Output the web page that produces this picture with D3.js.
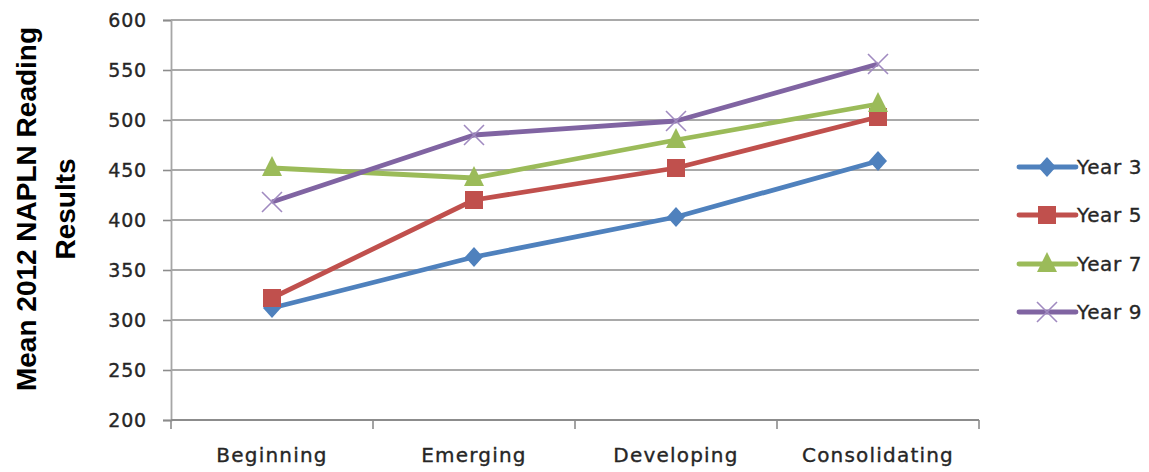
<!DOCTYPE html>
<html>
<head>
<meta charset="utf-8">
<script src="https://cdn.jsdelivr.net/npm/d3@7"></script>
<style>
  html, body { margin: 0; padding: 0; background: #ffffff; }
  svg { display: block; }
</style>
</head>
<body>
<svg id="chart" width="1149" height="472"></svg>
<script>
const categories = ["Beginning", "Emerging", "Developing", "Consolidating"];
const seriesNames = ["Year 3", "Year 5", "Year 7", "Year 9"];
const year3 = [312, 363, 403, 459];
const year5 = [322, 420, 452, 503];
const year7 = [452, 442, 480, 516];
const year9 = [418, 485, 499, 556];
const yTicks = [200, 250, 300, 350, 400, 450, 500, 550, 600];
const yTitleLines = ["Mean 2012 NAPLN Reading", "Results"];

const seriesValues = [year3, year5, year7, year9];
const colors = ["#4F81BD", "#C0504D", "#9BBB59", "#8064A2"];
const markers = ["diamond", "square", "triangle", "x"];

const svg = d3.select("#chart");
const plotLeft = 171, plotRight = 979, plotTop = 20, plotBottom = 420;

const x = d3.scaleBand().domain(categories).range([plotLeft, plotRight]).padding(0);
const y = d3.scaleLinear().domain([200, 600]).range([plotBottom, plotTop]);
const cx = c => x(c) + x.bandwidth() / 2;

const gridColor = "#8c8c8c";
const textColor = "#262626";

// gridlines
svg.append("g").selectAll("line").data(yTicks.filter(t => t > 200)).enter()
  .append("line")
  .attr("x1", plotLeft).attr("x2", plotRight)
  .attr("y1", d => y(d)).attr("y2", d => y(d))
  .attr("stroke", gridColor).attr("stroke-width", 1.6);

// y axis
const yAxis = d3.axisLeft(y).tickValues(yTicks).tickSize(8).tickPadding(16);
const gy = svg.append("g").attr("transform", `translate(${plotLeft},0)`).call(yAxis);
gy.select(".domain").attr("stroke", "#a6a6a6").attr("stroke-width", 1.8);
gy.selectAll(".tick line").attr("stroke", gridColor).attr("stroke-width", 1.6);
gy.selectAll(".tick text")
  .attr("font-family", "DejaVu Sans").attr("font-size", 19)
  .attr("letter-spacing", "0.8px")
  .attr("fill", textColor).attr("stroke", textColor).attr("stroke-width", 0.35);

// x axis
const gx = svg.append("g").attr("transform", `translate(0,${plotBottom})`);
gx.append("line").attr("x1", plotLeft).attr("x2", plotRight).attr("y1", 0).attr("y2", 0)
  .attr("stroke", gridColor).attr("stroke-width", 1.8);
const boundaries = categories.map(c => x(c)).concat([plotRight]);
gx.selectAll("line.tk").data(boundaries).enter().append("line").attr("class", "tk")
  .attr("x1", d => d).attr("x2", d => d).attr("y1", 0).attr("y2", 9)
  .attr("stroke", gridColor).attr("stroke-width", 1.6);
gx.selectAll("text").data(categories).enter().append("text")
  .attr("x", d => cx(d)).attr("y", 42)
  .attr("text-anchor", "middle")
  .attr("font-family", "DejaVu Sans").attr("font-size", 20)
  .attr("letter-spacing", "1.2px")
  .attr("fill", textColor).attr("stroke", textColor).attr("stroke-width", 0.35)
  .text(d => d);

// y title
const title = svg.append("text")
  .attr("transform", `translate(36,209) rotate(-90)`)
  .attr("text-anchor", "middle")
  .attr("font-family", "Liberation Sans").attr("font-weight", "bold")
  .attr("font-size", 28).attr("fill", "#000");
title.append("tspan").attr("x", 0).attr("y", 0).text(yTitleLines[0]);
title.append("tspan").attr("x", 0).attr("y", 39).text(yTitleLines[1]);

function drawMarker(g, type, color, px, py) {
  if (type === "diamond") {
    g.append("path").attr("d", `M${px},${py-10}L${px+9},${py}L${px},${py+10}L${px-9},${py}Z`)
      .attr("fill", color);
  } else if (type === "square") {
    g.append("rect").attr("x", px - 9).attr("y", py - 9).attr("width", 18).attr("height", 18)
      .attr("fill", color);
  } else if (type === "triangle") {
    g.append("path").attr("d", `M${px},${py-12}L${px+10},${py+8}L${px-10},${py+8}Z`)
      .attr("fill", color);
  } else if (type === "x") {
    g.append("path").attr("d", `M${px-10},${py-10}L${px+10},${py+10}M${px-10},${py+10}L${px+10},${py-10}`)
      .attr("stroke", "#a08ac0").attr("stroke-width", 1.6).attr("fill", "none");
  }
}

// lines
const line = d3.line().x((d, i) => cx(categories[i])).y(d => y(d));
seriesValues.forEach((vals, si) => {
  const g = svg.append("g");
  g.append("path").datum(vals).attr("d", line)
    .attr("fill", "none").attr("stroke", colors[si]).attr("stroke-width", 4.8)
    .attr("stroke-linejoin", "round");
  vals.forEach((v, i) => drawMarker(g, markers[si], colors[si], cx(categories[i]), y(v)));
});

// legend
const legendY = [167, 215, 264, 312];
seriesNames.forEach((name, si) => {
  const g = svg.append("g");
  const ly = legendY[si];
  g.append("line").attr("x1", 1019).attr("x2", 1076).attr("y1", ly).attr("y2", ly)
    .attr("stroke", colors[si]).attr("stroke-width", 4.8).attr("stroke-linecap", "round");
  drawMarker(g, markers[si], colors[si], 1047, ly);
  g.append("text").attr("x", 1077).attr("y", ly + 7)
    .attr("font-family", "DejaVu Sans").attr("font-size", 20)
    .attr("letter-spacing", "0.6px")
    .attr("fill", textColor).attr("stroke", textColor).attr("stroke-width", 0.35)
    .text(name);
});
</script>
</body>
</html>
